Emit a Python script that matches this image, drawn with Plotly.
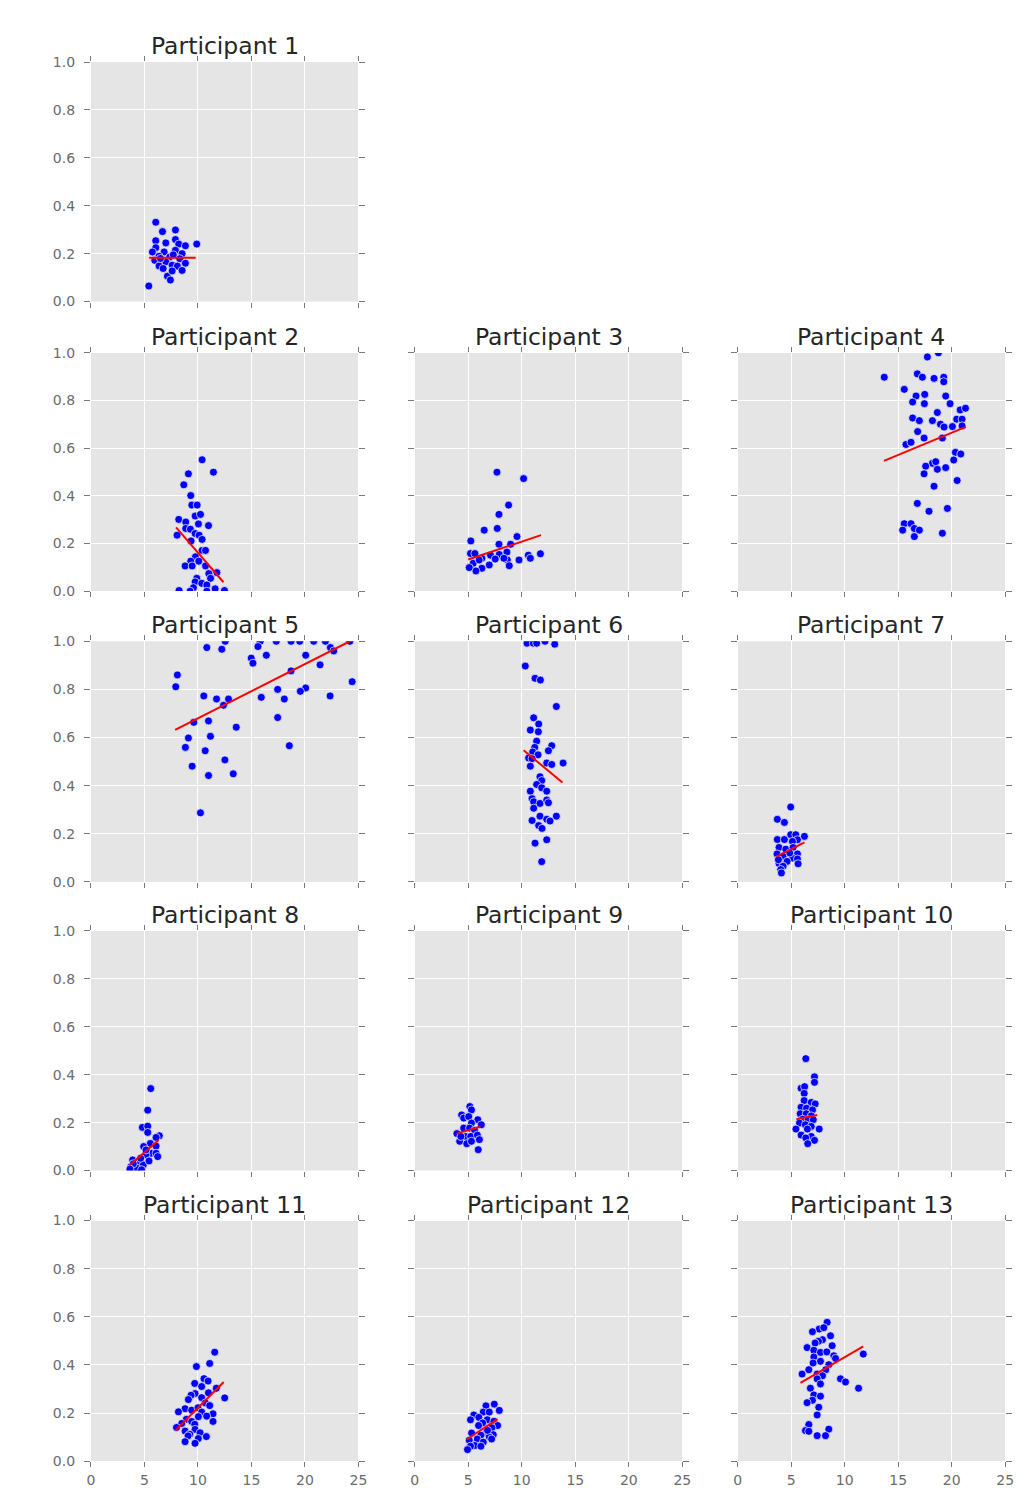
import plotly.graph_objects as go

# ---------------- data ----------------
titles = ["Participant %d" % i for i in range(1, 14)]

p1_x = [6.06, 6.69, 7.90, 6.06, 7.00, 7.90, 8.21, 8.83, 9.89, 6.06, 6.84, 7.90, 8.52, 5.75, 6.37, 7.37, 8.30, 8.83, 5.97, 6.37, 7.00, 7.59, 8.08, 8.52, 7.15, 7.43, 7.59, 6.75, 5.41, 6.50, 7.70]
p1_y = [0.331, 0.292, 0.299, 0.254, 0.245, 0.259, 0.240, 0.233, 0.240, 0.225, 0.207, 0.214, 0.200, 0.207, 0.189, 0.186, 0.179, 0.160, 0.172, 0.149, 0.166, 0.152, 0.148, 0.130, 0.106, 0.090, 0.128, 0.138, 0.065, 0.180, 0.195]
p1_fit_x = [5.44, 9.79]
p1_fit_y = [0.183, 0.183]

p2_x = [10.39, 11.45, 9.11, 8.68, 9.33, 9.43, 9.93, 9.74, 10.24, 8.21, 8.86, 10.05, 10.99, 8.86, 9.30, 8.05, 9.74, 10.11, 9.36, 10.39, 10.39, 10.71, 9.77, 9.33, 10.08, 8.80, 9.46, 10.71, 11.77, 11.02, 11.18, 9.89, 9.74, 10.36, 10.83, 9.58, 11.61, 8.24, 9.27, 10.83, 12.48]
p2_y = [0.551, 0.499, 0.492, 0.446, 0.401, 0.361, 0.361, 0.315, 0.322, 0.301, 0.290, 0.282, 0.275, 0.263, 0.260, 0.235, 0.242, 0.235, 0.211, 0.217, 0.171, 0.171, 0.144, 0.126, 0.126, 0.106, 0.106, 0.106, 0.078, 0.074, 0.054, 0.054, 0.039, 0.033, 0.026, 0.015, 0.010, 0.003, 0.0, 0.0, 0.003]
p2_fit_x = [7.96, 12.39]
p2_fit_y = [0.268, 0.0375]

p3_x = [7.68, 10.17, 8.77, 7.87, 6.49, 7.71, 5.24, 7.87, 8.96, 9.55, 5.21, 5.62, 6.27, 7.08, 7.90, 8.61, 8.65, 9.74, 10.61, 10.80, 11.74, 5.46, 6.02, 6.96, 6.27, 5.71, 5.09, 8.83, 8.33, 7.52]
p3_y = [0.499, 0.472, 0.361, 0.322, 0.256, 0.263, 0.211, 0.197, 0.197, 0.229, 0.158, 0.158, 0.138, 0.151, 0.154, 0.164, 0.131, 0.131, 0.151, 0.138, 0.157, 0.117, 0.131, 0.110, 0.096, 0.085, 0.099, 0.107, 0.138, 0.135]
p3_fit_x = [4.99, 11.80]
p3_fit_y = [0.133, 0.235]

p4_x = [17.73, 18.76, 13.70, 16.79, 17.26, 18.35, 19.26, 19.26, 15.57, 16.67, 17.48, 19.44, 16.35, 17.45, 19.85, 20.79, 21.29, 18.66, 16.35, 16.98, 18.20, 18.95, 20.47, 20.97, 20.97, 19.29, 20.07, 16.82, 17.42, 19.13, 15.73, 16.20, 20.35, 20.85, 20.19, 18.20, 18.51, 17.57, 18.66, 19.44, 17.42, 20.51, 18.35, 16.79, 17.88, 19.60, 15.57, 16.20, 15.42, 16.51, 16.98, 16.51, 19.13]
p4_y = [0.982, 0.999, 0.897, 0.911, 0.897, 0.892, 0.897, 0.878, 0.846, 0.818, 0.825, 0.818, 0.793, 0.786, 0.786, 0.760, 0.767, 0.749, 0.726, 0.715, 0.715, 0.700, 0.721, 0.721, 0.693, 0.688, 0.690, 0.669, 0.642, 0.642, 0.615, 0.624, 0.582, 0.575, 0.550, 0.536, 0.543, 0.524, 0.511, 0.518, 0.492, 0.464, 0.440, 0.368, 0.335, 0.347, 0.283, 0.283, 0.256, 0.263, 0.256, 0.229, 0.243]
p4_fit_x = [13.67, 21.32]
p4_fit_y = [0.546, 0.689]

p5_x = [10.83, 12.23, 12.55, 15.82, 15.61, 17.32, 18.70, 19.51, 20.82, 21.91, 22.38, 22.69, 24.19, 16.39, 20.07, 14.98, 15.14, 21.41, 18.70, 8.08, 7.93, 24.41, 17.45, 20.07, 19.57, 22.35, 10.55, 11.74, 12.86, 15.92, 18.07, 12.39, 17.45, 10.99, 9.61, 13.58, 9.11, 11.17, 8.83, 10.68, 18.54, 9.46, 12.52, 10.99, 13.30, 10.24]
p5_y = [0.974, 0.967, 1.0, 1.0, 0.978, 1.0, 1.0, 1.0, 1.0, 1.0, 0.974, 0.960, 1.0, 0.942, 0.942, 0.930, 0.909, 0.902, 0.877, 0.860, 0.811, 0.832, 0.800, 0.806, 0.792, 0.773, 0.773, 0.760, 0.760, 0.767, 0.760, 0.734, 0.683, 0.669, 0.663, 0.643, 0.598, 0.605, 0.559, 0.545, 0.566, 0.481, 0.507, 0.442, 0.449, 0.287]
p5_fit_x = [7.87, 24.19]
p5_fit_y = [0.632, 1.0]

p6_x = [10.49, 11.08, 11.39, 12.17, 13.08, 10.33, 11.24, 11.74, 13.23, 11.11, 11.58, 10.80, 11.55, 11.39, 12.80, 11.21, 12.49, 11.02, 11.52, 10.64, 10.96, 12.33, 12.80, 13.86, 10.80, 11.70, 11.86, 11.39, 11.86, 10.80, 12.33, 10.96, 11.11, 11.70, 12.33, 12.49, 11.11, 11.70, 13.23, 12.33, 12.64, 10.96, 11.58, 11.89, 12.33, 11.24, 11.86]
p6_y = [0.992, 0.992, 0.992, 1.0, 0.988, 0.897, 0.846, 0.839, 0.729, 0.682, 0.656, 0.631, 0.624, 0.585, 0.566, 0.559, 0.545, 0.540, 0.528, 0.515, 0.512, 0.494, 0.488, 0.494, 0.481, 0.437, 0.421, 0.405, 0.391, 0.377, 0.377, 0.346, 0.333, 0.326, 0.340, 0.329, 0.306, 0.273, 0.273, 0.260, 0.253, 0.255, 0.234, 0.222, 0.175, 0.161, 0.084]
p6_fit_x = [10.17, 13.80]
p6_fit_y = [0.547, 0.413]

p7_x = [4.96, 3.71, 4.37, 3.71, 4.37, 4.96, 5.43, 6.24, 5.59, 5.12, 3.87, 4.50, 5.18, 5.59, 3.68, 4.25, 5.12, 4.62, 5.59, 3.87, 4.25, 4.03, 3.81, 4.87, 5.65, 4.09]
p7_y = [0.311, 0.260, 0.247, 0.176, 0.176, 0.196, 0.196, 0.189, 0.175, 0.168, 0.143, 0.136, 0.143, 0.116, 0.116, 0.106, 0.099, 0.085, 0.095, 0.076, 0.065, 0.051, 0.092, 0.120, 0.075, 0.037]
p7_fit_x = [3.62, 6.24]
p7_fit_y = [0.105, 0.164]

p8_x = [5.59, 5.31, 4.81, 5.31, 5.31, 6.40, 6.09, 5.56, 4.93, 6.09, 5.62, 6.09, 6.24, 5.15, 3.90, 4.43, 4.90, 5.43, 3.75, 4.28, 3.96, 4.74, 3.65, 4.65, 5.15]
p8_y = [0.342, 0.252, 0.180, 0.185, 0.159, 0.145, 0.138, 0.113, 0.100, 0.102, 0.072, 0.072, 0.058, 0.065, 0.044, 0.037, 0.024, 0.040, 0.017, 0.010, 0.028, 0.003, 0.006, 0.051, 0.086]
p8_fit_x = [3.59, 6.34]
p8_fit_y = [0.021, 0.127]

p9_x = [5.15, 5.30, 4.38, 4.57, 5.04, 5.89, 5.30, 6.22, 4.57, 5.12, 5.60, 3.94, 4.75, 5.23, 5.85, 4.20, 4.86, 5.30, 6.04, 5.93, 4.31]
p9_y = [0.267, 0.253, 0.232, 0.219, 0.225, 0.212, 0.198, 0.191, 0.177, 0.177, 0.167, 0.154, 0.142, 0.142, 0.148, 0.122, 0.112, 0.122, 0.129, 0.087, 0.142]
p9_fit_x = [3.90, 6.15]
p9_fit_y = [0.154, 0.184]

p10_x = [6.37, 7.18, 7.18, 5.93, 6.26, 6.22, 6.22, 6.88, 7.25, 5.93, 6.44, 7.00, 5.85, 6.41, 6.88, 6.07, 6.59, 7.07, 5.78, 6.33, 6.88, 5.45, 6.52, 7.62, 5.93, 6.88, 6.37, 7.18, 6.55]
p10_y = [0.467, 0.391, 0.368, 0.343, 0.350, 0.322, 0.292, 0.284, 0.278, 0.264, 0.260, 0.253, 0.237, 0.237, 0.228, 0.214, 0.212, 0.212, 0.198, 0.191, 0.184, 0.173, 0.173, 0.173, 0.148, 0.142, 0.136, 0.126, 0.112]
p10_fit_x = [5.49, 7.44]
p10_fit_y = [0.214, 0.232]

p11_x = [11.57, 11.10, 9.86, 9.70, 10.57, 10.95, 10.35, 11.72, 9.73, 10.98, 9.36, 9.11, 10.35, 12.50, 10.70, 11.10, 8.80, 9.42, 10.01, 8.18, 10.35, 11.41, 10.82, 10.04, 8.92, 9.42, 11.41, 8.49, 9.70, 8.00, 9.73, 8.80, 10.20, 9.24, 9.08, 10.79, 10.04, 8.80, 9.73]
p11_y = [0.453, 0.406, 0.393, 0.323, 0.343, 0.333, 0.310, 0.303, 0.281, 0.284, 0.274, 0.256, 0.264, 0.263, 0.242, 0.231, 0.218, 0.212, 0.222, 0.205, 0.204, 0.197, 0.187, 0.185, 0.174, 0.165, 0.165, 0.157, 0.153, 0.140, 0.132, 0.125, 0.118, 0.112, 0.105, 0.102, 0.094, 0.081, 0.074]
p11_fit_x = [7.93, 12.41]
p11_fit_y = [0.129, 0.329]

p12_x = [7.43, 6.65, 7.90, 6.40, 6.96, 5.52, 5.99, 5.21, 6.77, 7.40, 6.34, 5.96, 7.74, 7.21, 6.65, 7.34, 5.31, 6.18, 6.96, 7.18, 5.84, 5.09, 6.40, 5.62, 6.18, 5.21, 4.93, 6.80]
p12_y = [0.237, 0.230, 0.211, 0.204, 0.204, 0.192, 0.182, 0.172, 0.172, 0.166, 0.159, 0.148, 0.148, 0.139, 0.117, 0.110, 0.117, 0.108, 0.101, 0.092, 0.092, 0.087, 0.079, 0.065, 0.062, 0.062, 0.048, 0.128]
p12_fit_x = [4.84, 7.74]
p12_fit_y = [0.090, 0.175]

p13_x = [8.36, 7.62, 8.05, 6.99, 8.68, 7.93, 7.55, 7.24, 6.49, 8.83, 7.12, 7.74, 8.33, 8.99, 9.15, 11.74, 7.12, 7.74, 7.05, 8.52, 6.65, 8.24, 6.02, 7.43, 7.93, 7.43, 9.61, 10.08, 7.74, 11.30, 6.80, 7.12, 7.74, 6.99, 6.49, 7.58, 7.43, 6.65, 6.34, 6.65, 8.52, 7.43, 8.21]
p13_y = [0.577, 0.549, 0.555, 0.538, 0.521, 0.505, 0.498, 0.491, 0.472, 0.480, 0.461, 0.452, 0.454, 0.438, 0.427, 0.445, 0.433, 0.415, 0.408, 0.401, 0.380, 0.380, 0.362, 0.362, 0.355, 0.342, 0.342, 0.329, 0.321, 0.303, 0.303, 0.275, 0.270, 0.253, 0.243, 0.224, 0.192, 0.152, 0.127, 0.124, 0.133, 0.106, 0.106]
p13_fit_x = [5.87, 11.74]
p13_fit_y = [0.325, 0.477]

x_ticks = [0, 5, 10, 15, 20, 25]
y_ticks = [0.0, 0.2, 0.4, 0.6, 0.8, 1.0]

participants = [
    (p1_x, p1_y, p1_fit_x, p1_fit_y),
    (p2_x, p2_y, p2_fit_x, p2_fit_y),
    (p3_x, p3_y, p3_fit_x, p3_fit_y),
    (p4_x, p4_y, p4_fit_x, p4_fit_y),
    (p5_x, p5_y, p5_fit_x, p5_fit_y),
    (p6_x, p6_y, p6_fit_x, p6_fit_y),
    (p7_x, p7_y, p7_fit_x, p7_fit_y),
    (p8_x, p8_y, p8_fit_x, p8_fit_y),
    (p9_x, p9_y, p9_fit_x, p9_fit_y),
    (p10_x, p10_y, p10_fit_x, p10_fit_y),
    (p11_x, p11_y, p11_fit_x, p11_fit_y),
    (p12_x, p12_y, p12_fit_x, p12_fit_y),
    (p13_x, p13_y, p13_fit_x, p13_fit_y),
]

# ---------------- layout geometry ----------------
W, H = 1030, 1488
col_px = [(88, 359), (416, 687), (743, 1014)]
row_px = [(55, 299), (351, 594), (645, 890), (940, 1184), (1235, 1480)]

positions = [(0, 0)] + [(1 + i // 3, i % 3) for i in range(12)]

fig = go.Figure()
layout = dict(
    width=W, height=H,
    margin=dict(l=0, r=0, t=0, b=0),
    paper_bgcolor="white",
    plot_bgcolor="#E5E5E5",
    showlegend=False,
    font=dict(family="DejaVu Sans", color="#555555"),
    annotations=[],
)

tick_font = dict(family="DejaVu Sans", size=14, color="#6b6b6b")

for k, ((px, py, fx, fy), (r, c)) in enumerate(zip(participants, positions)):
    idx = k + 1
    xa = "x" if idx == 1 else "x%d" % idx
    ya = "y" if idx == 1 else "y%d" % idx
    fig.add_trace(go.Scatter(
        x=px, y=py, mode="markers", xaxis=xa, yaxis=ya,
        marker=dict(color="#0000FF", size=8, line=dict(color="white", width=0.7)),
        cliponaxis=True,
    ))
    fig.add_trace(go.Scatter(
        x=fx, y=fy, mode="lines", xaxis=xa, yaxis=ya,
        line=dict(color="#FF0000", width=2),
        cliponaxis=True,
    ))
    x0, x1 = col_px[c]
    y0, y1 = row_px[r]
    xdom = [x0 / W, x1 / W]
    ydom = [1 - y1 / H, 1 - y0 / H]
    layout["xaxis" if idx == 1 else "xaxis%d" % idx] = dict(
        domain=xdom, anchor=ya, range=[0, 25],
        tickvals=x_ticks, ticktext=[str(v) for v in x_ticks],
        showticklabels=(r == 4),
        ticks="outside", ticklen=5, tickcolor="#7a7a7a", tickwidth=1,
        ticklabelstandoff=1,
        showline=True, linecolor="white", linewidth=1, mirror="ticks",
        showgrid=True, gridcolor="white", gridwidth=1, zeroline=False,
        tickfont=tick_font, fixedrange=True,
    )
    layout["yaxis" if idx == 1 else "yaxis%d" % idx] = dict(
        domain=ydom, anchor=xa, range=[0, 1],
        tickvals=y_ticks, ticktext=["%.1f" % v for v in y_ticks],
        showticklabels=(c == 0),
        ticks="outside", ticklen=6, tickcolor="#7a7a7a", tickwidth=1,
        ticklabelstandoff=6,
        showline=True, linecolor="white", linewidth=1, mirror="ticks",
        showgrid=True, gridcolor="white", gridwidth=1, zeroline=False,
        tickfont=tick_font, fixedrange=True,
    )
    layout["annotations"].append(dict(
        text=titles[k], xref="paper", yref="paper",
        x=(xdom[0] + xdom[1]) / 2, y=ydom[1],
        xanchor="center", yanchor="bottom", yshift=0,
        showarrow=False,
        font=dict(family="DejaVu Sans", size=23.5, color="#262626"),
    ))

fig.update_layout(**layout)
fig.write_html(
    "out.html",
    config={"displayModeBar": False},
    post_script=(
        "document.body.style.margin='0';"
        "document.body.style.overflow='hidden';"
        "document.documentElement.style.overflow='hidden';"
    ),
)
